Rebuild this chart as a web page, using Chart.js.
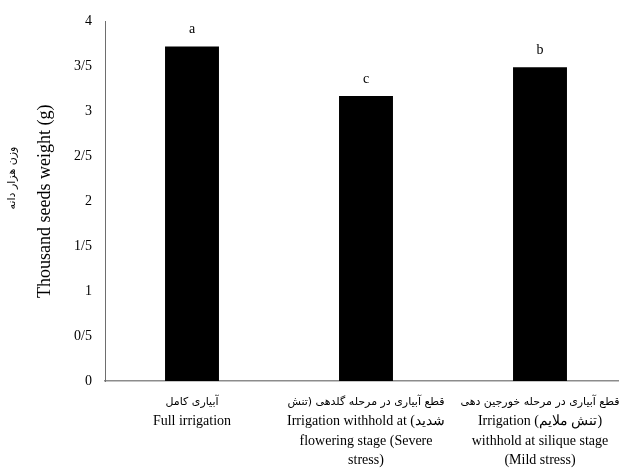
<!DOCTYPE html>
<html>
<head>
<meta charset="utf-8">
<script src="https://cdn.jsdelivr.net/npm/chart.js@4"></script>
<style>
  html, body { margin: 0; padding: 0; background: #fff; overflow: hidden; }
  #wrap { width: 627px; height: 472px; position: relative; }
</style>
</head>
<body>
<div id="wrap"><canvas id="seedChart"></canvas></div>
<script>
// Data
const treatments = [
  ['آبیاری کامل', 'Full irrigation'],
  ['قطع آبیاری در مرحله گلدهی (تنش', 'Irrigation withhold at (شدید', 'flowering stage (Severe', 'stress)'],
  ['قطع آبیاری در مرحله خورجین دهی', 'Irrigation (تنش ملایم)', 'withhold at silique stage', '(Mild stress)']
];
const seedWeight = [3.72, 3.17, 3.49];
const groupLetters = ['a', 'c', 'b'];
const yTickLabels = ['0', '0/5', '1', '1/5', '2', '2/5', '3', '3/5', '4'];

const serif = '"Liberation Serif", "Times New Roman", serif';
const latin = /[A-Za-z]/;

// letters above bars, category labels (persian lines smaller), persian axis title
const extraText = {
  id: 'extraText',
  afterDatasetsDraw(chart) {
    const ctx = chart.ctx;
    const x = chart.scales.x;
    ctx.save();
    ctx.fillStyle = '#000';
    ctx.textAlign = 'center';
    ctx.textBaseline = 'middle';
    ctx.font = '14px ' + serif;
    chart.getDatasetMeta(0).data.forEach((bar, i) => {
      ctx.fillText(groupLetters[i], bar.x, bar.y - 17);
    });
    chart.data.labels.forEach((lines, i) => {
      const cx = x.getPixelForTick(i);
      lines.forEach((line, j) => {
        ctx.font = latin.test(line) ? '14px ' + serif : '11px "DejaVu Sans", sans-serif';
        ctx.fillText(line, cx, x.top + 21 + j * 19.5);
      });
    });
    ctx.translate(12, 178);
    ctx.rotate(-Math.PI / 2);
    ctx.font = '11px "DejaVu Sans", sans-serif';
    ctx.fillText('وزن هزار دانه', 0, 0);
    ctx.restore();
  }
};

new Chart(document.getElementById('seedChart'), {
  type: 'bar',
  data: {
    labels: treatments,
    datasets: [{
      data: seedWeight,
      backgroundColor: '#000',
      barPercentage: 0.31,
      categoryPercentage: 1
    }]
  },
  options: {
    responsive: true,
    maintainAspectRatio: false,
    animation: false,
    layout: { padding: { top: 20, right: 0, bottom: 0, left: 0 } },
    plugins: { legend: { display: false }, tooltip: { enabled: false } },
    scales: {
      x: {
        grid: { display: false, drawTicks: false },
        border: { display: true, color: '#8c8c8c', width: 1.5 },
        ticks: { display: false },
        afterFit(scale) { scale.height = 91; scale.paddingLeft = 0; scale.paddingRight = 0; }
      },
      y: {
        min: 0,
        max: 4,
        grid: { display: false, drawTicks: false },
        border: { display: true, color: '#6e6e6e', width: 1 },
        ticks: {
          stepSize: 0.5,
          color: '#000',
          font: { family: serif, size: 14 },
          padding: 13,
          callback: (v, i) => yTickLabels[i]
        },
        title: {
          display: true,
          text: 'Thousand seeds weight (g)',
          color: '#000',
          font: { family: serif, size: 18 },
          padding: { top: 34, bottom: 0 }
        },
        afterFit(scale) { scale.width = 105; }
      }
    }
  },
  plugins: [extraText]
});
</script>
</body>
</html>
